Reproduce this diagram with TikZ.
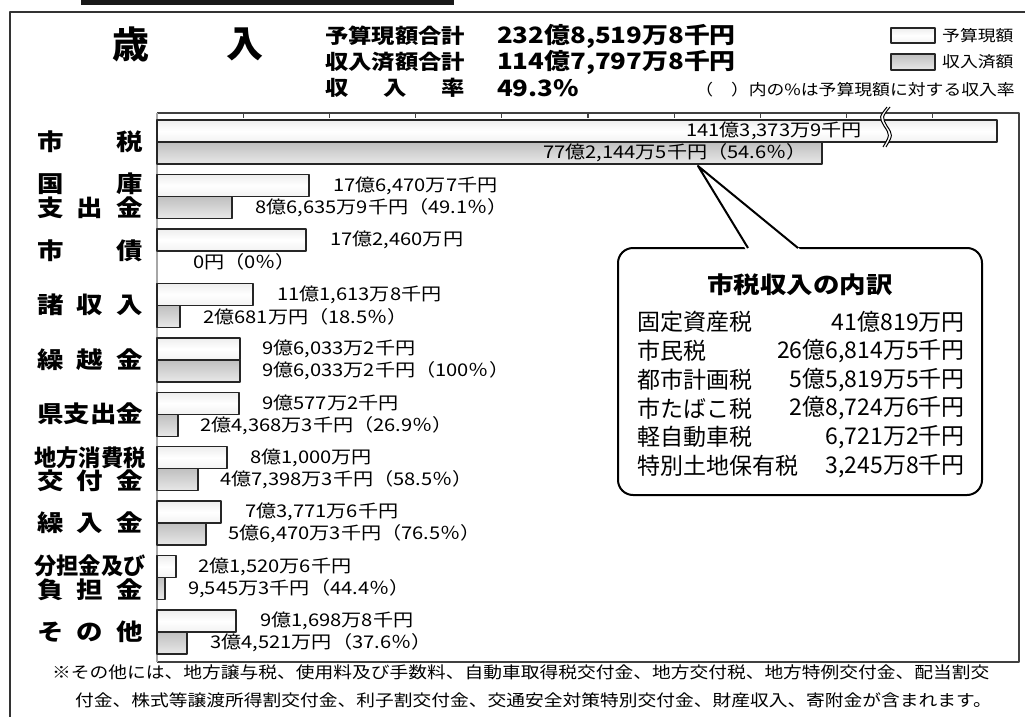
\documentclass[tikz,border=0pt]{standalone}
\usepackage{fontspec}
\usepackage{graphicx}
\newfontfamily\goth[FakeStretch=1.15]{Noto Sans CJK JP}
\newfontfamily\gothn{Noto Sans CJK JP}
\usetikzlibrary{calc}

\tikzset{
  frameline/.style={line width=2.4pt, black!80},
  boxline/.style={line width=1.3pt, black!75},
  budget/.style={draw=black!85, line width=1.4pt, top color=gray!14, bottom color=gray!10, middle color=white},
  actual/.style={draw=black!85, line width=1.4pt, top color=gray!50, bottom color=gray!18},
  catlabel/.style={font=\goth\bfseries\fontsize{23}{24}\selectfont, inner sep=0pt},
  vallabel/.style={font=\goth\fontsize{17.5}{19}\selectfont, inner sep=0pt},
  headtext/.style={font=\goth\bfseries\fontsize{20.3}{22}\selectfont, anchor=west, inner sep=0pt},
  headval/.style={font=\goth\bfseries\fontsize{22.5}{24}\selectfont, anchor=west, inner sep=0pt},
  legtext/.style={font=\goth\fontsize{15.5}{17}\selectfont, inner sep=0pt},
  callbox/.style={draw, line width=2pt, rounded corners=15pt, fill=white, minimum width=364pt, minimum height=247pt, outer sep=0pt},
  boxtext/.style={font=\gothn\fontsize{23}{25}\selectfont, inner sep=0pt},
  notetext/.style={font=\goth\fontsize{16.3}{18}\selectfont, anchor=west, inner sep=0pt}
}

\begin{document}
\begin{tikzpicture}[x=1pt, y=-1pt, line join=round]
\useasboundingbox (0,0) rectangle (1025,717);
\clip (0,0) rectangle (1025,717);

% --- Outer frame and title tab ---
\fill[black!90] (81,0) rectangle (454,4.7);
\draw[frameline] (10,740) -- (10,12) -- (1040,12);

% --- Heading ---
\node[font=\gothn\bfseries\fontsize{37}{40}\selectfont, inner sep=0pt] (sai) at (131,44) {歳};
\node[font=\gothn\bfseries\fontsize{37}{40}\selectfont, inner sep=0pt] (nyu) at (245,44) {入};

\node[headtext] (h-yosan) at (325,36) {予算現額合計};
\node[headtext] (h-shunyu) at (325,62) {収入済額合計};
\node[headtext] (h-ritsu) at (325,88) {\makebox[140pt][s]{収\hfill 入\hfill 率}};
\node[headval] (v-yosan) at (497,36) {232億8,519万8千円};
\node[headval] (v-shunyu) at (497,62) {114億7,797万8千円};
\node[headval] (v-ritsu) at (497,88) {49.3\%};

% --- Legend ---
\draw[budget, line width=1.2pt] (891,28) rectangle (935,43);
\draw[actual, line width=1.2pt] (891,54) rectangle (935,70);
\node[legtext, anchor=west] (leg-b) at (942,35.5) {予算現額};
\node[legtext, anchor=west] (leg-r) at (942,62) {収入済額};
\node[legtext, anchor=east] (leg-note) at (1015,90) {（　）内の\%は予算現額に対する収入率};

% --- Chart box with scale ticks ---
\draw[boxline] (157,113) -- (1019,113) -- (1019,662) -- (157,662);
\foreach \k in {1,...,9}
  \draw[boxline] ({157+86.2*\k},113) -- ++(0,4.5);
\draw[line width=1.6pt, gray!70] (157,113) -- (157,662);

% --- City tax row (broken bar) ---
\draw[budget] (157,120) rectangle (997,142);
\draw[actual] (157,142) rectangle (822,164);
\node[vallabel, anchor=east] (bud-0) at (862,131) {141億3,373万9千円};
\node[vallabel, anchor=east] (rev-0) at (807,153) {77億2,144万5千円（54.6％）};

% break mark
\fill[white] (887,107) .. controls (879,117) .. (884,126) .. controls (890,135) .. (883,147)
  -- (886,147) .. controls (893,135) .. (887,126) .. controls (882,117) .. (890,107) -- cycle;
\draw[line width=1pt] (887,107) .. controls (879,117) .. (884,126) .. controls (890,135) .. (883,147);
\draw[line width=1pt] (890,107) .. controls (882,117) .. (887,126) .. controls (893,135) .. (886,147);

% --- Other rows ---
\def\rowgap{54.45}
\foreach \i/\bend/\rend/\btext/\rtext/\bx/\rx in {
  1/309/232/{17億6,470万7千円}/{8億6,635万9千円（49.1％）}/333/255,
  2/306/157/{17億2,460万円}/{0円（0％）}/330/193,
  3/253/180/{11億1,613万8千円}/{2億681万円（18.5％）}/277/203,
  4/240/240/{9億6,033万2千円}/{9億6,033万2千円（100％）}/262/262,
  5/239/178/{9億577万2千円}/{2億4,368万3千円（26.9％）}/262/200,
  6/227/198/{8億1,000万円}/{4億7,398万3千円（58.5％）}/250/220,
  7/221/206/{7億3,771万6千円}/{5億6,470万3千円（76.5％）}/245/228,
  8/176/165/{2億1,520万6千円}/{9,545万3千円（44.4％）}/198/188,
  9/236/187/{9億1,698万8千円}/{3億4,521万円（37.6％）}/260/210}{
  \pgfmathsetmacro\yt{120+\rowgap*\i}
  \draw[budget] (157,\yt) rectangle (\bend,\yt+22);
  \ifnum\i=2 \else\draw[actual] (157,\yt+22) rectangle (\rend,\yt+44);\fi
  \node[vallabel, anchor=west] (bud-\i) at (\bx,\yt+11) {\btext};
  \node[vallabel, anchor=west] (rev-\i) at (\rx,\yt+33) {\rtext};
}

% --- Category labels ---
\node[catlabel] (cat-0) at (90,142) {\makebox[106pt][s]{市\hfill 税}};
\node[catlabel] (cat-1a) at (90,184) {\makebox[106pt][s]{国\hfill 庫}};
\node[catlabel] (cat-1b) at (90,208) {\makebox[106pt][s]{支\hfill 出\hfill 金}};
\node[catlabel] (cat-2) at (90,251) {\makebox[106pt][s]{市\hfill 債}};
\node[catlabel] (cat-3) at (90,305) {\makebox[106pt][s]{諸\hfill 収\hfill 入}};
\node[catlabel] (cat-4) at (90,360) {\makebox[106pt][s]{繰\hfill 越\hfill 金}};
\node[catlabel] (cat-5) at (90,414) {\makebox[106pt][s]{県\hfill 支\hfill 出\hfill 金}};
\node[catlabel] (cat-6a) at (90,458) {\scalebox{0.84}[1]{地方消費税}};
\node[catlabel] (cat-6b) at (90,481) {\makebox[106pt][s]{交\hfill 付\hfill 金}};
\node[catlabel] (cat-7) at (90,523) {\makebox[106pt][s]{繰\hfill 入\hfill 金}};
\node[catlabel] (cat-8a) at (90,566) {\scalebox{0.84}[1]{分担金及び}};
\node[catlabel] (cat-8b) at (90,590) {\makebox[106pt][s]{負\hfill 担\hfill 金}};
\node[catlabel] (cat-9) at (90,632) {\makebox[106pt][s]{そ\hfill の\hfill 他}};

% --- Callout: city tax breakdown ---
\node[callbox] (detail) at (800,371.5) {};
\coordinate (tip) at (698,166);
\fill[white] ($(detail.north west)+(128,2)$) -- (tip) -- ($(detail.north west)+(183,2)$) -- cycle;
\draw[line width=2pt] ($(detail.north west)+(130,0)$) -- (tip) -- ($(detail.north west)+(180,0)$);

\node[font=\goth\bfseries\fontsize{23}{24}\selectfont, inner sep=0pt] (detail-title) at (800,285) {市税収入の内訳};
\foreach \k/\tax/\amt in {0/固定資産税/41億819万円, 1/市民税/{26億6,814万5千円},
  2/都市計画税/{5億5,819万5千円}, 3/市たばこ税/{2億8,724万6千円},
  4/軽自動車税/{6,721万2千円}, 5/特別土地保有税/{3,245万8千円}}{
  \node[boxtext, anchor=west] (item-\k) at (637,{322+28.8*\k}) {\tax};
  \node[boxtext, anchor=east] (amt-\k) at (965,{322+28.8*\k}) {\amt};
}

% --- Footnote ---
\node[notetext] (note-1) at (52,672) {※その他には、地方譲与税、使用料及び手数料、自動車取得税交付金、地方交付税、地方特例交付金、配当割交};
\node[notetext] (note-2) at (75,700) {付金、株式等譲渡所得割交付金、利子割交付金、交通安全対策特別交付金、財産収入、寄附金が含まれます。};

\end{tikzpicture}
\end{document}
